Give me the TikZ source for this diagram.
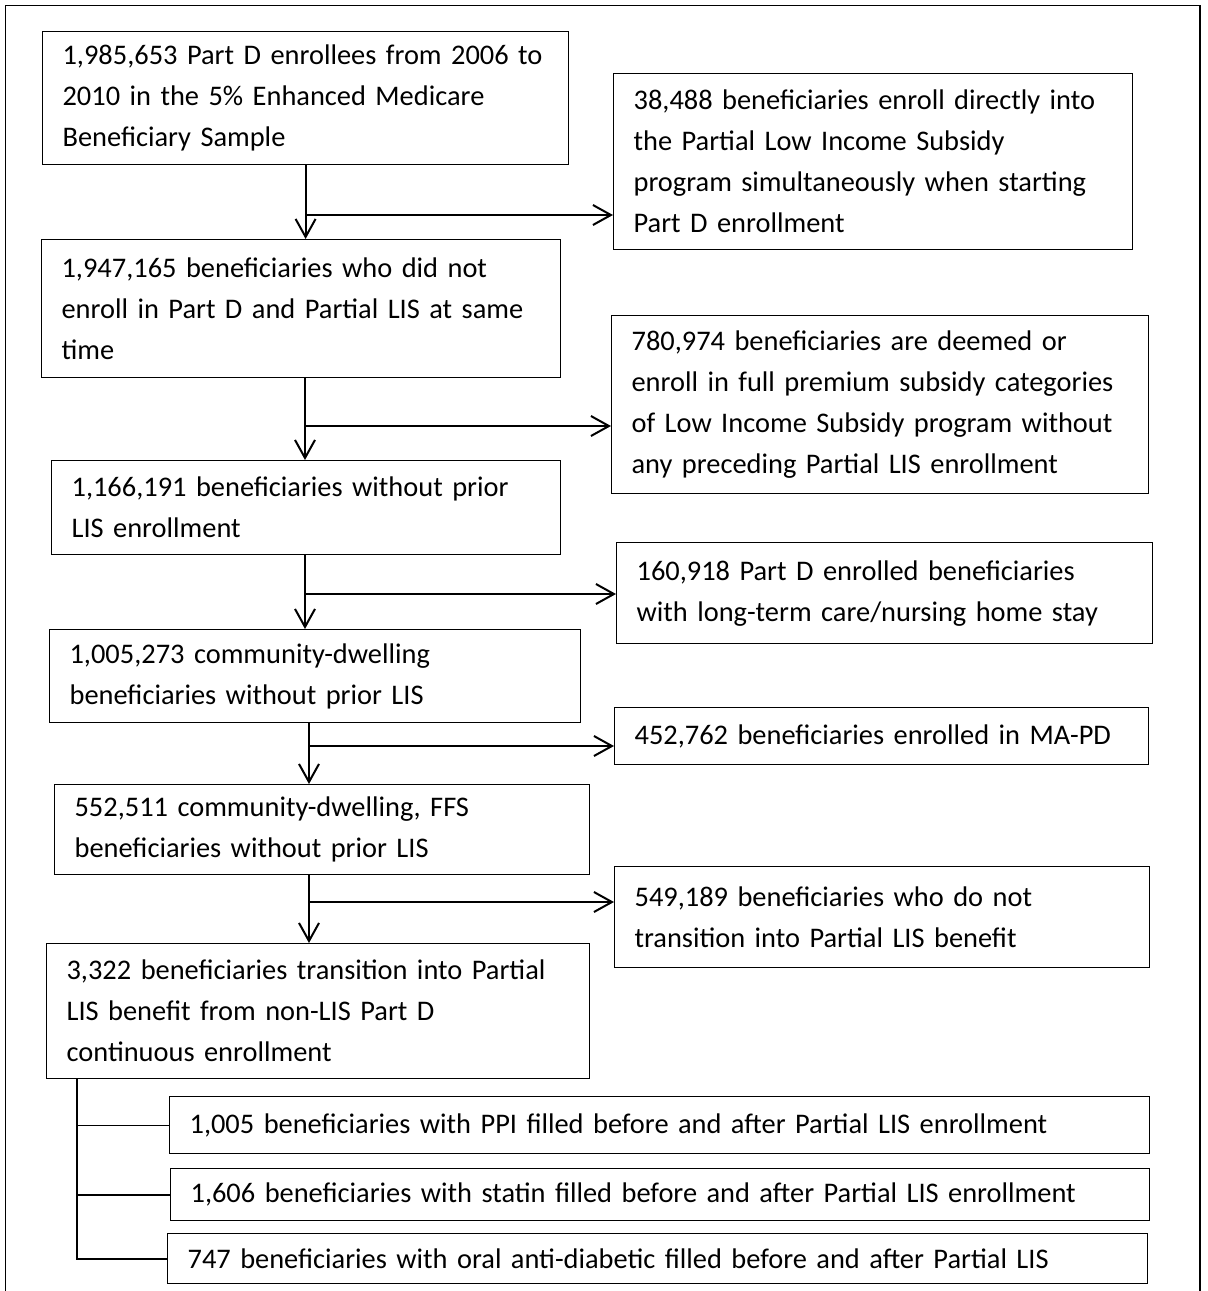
\documentclass[tikz,border=0pt]{standalone}
\usepackage{fontspec}
\setmainfont{Carlito}
\usetikzlibrary{arrows.meta}

\begin{document}
\begin{tikzpicture}[
    x=0.5pt, y=-0.5pt,
    box/.style 2 args={draw, line width=0.6pt, anchor=north west, align=left, inner xsep=10pt, inner ysep=0pt, text width=#1, minimum height=#2, font=\fontsize{14.2}{20.5}\selectfont},
    arr/.style={-{Straight Barb[length=9pt,width=10pt]}, line width=1pt},
    link/.style={line width=1pt}
]
\useasboundingbox (0,0) rectangle (1207,1291);
\draw[line width=0.75pt] (5.5,1291) -- (5.5,5.5) -- (1200,5.5) -- (1200,1291);

\node[box={243pt}{66.5pt}] (s0) at (42,31) {1,985,653 Part D enrollees from 2006 to\\2010 in the 5\% Enhanced Medicare\\Beneficiary Sample};
\node[box={239.5pt}{88pt}] (x1) at (613,73) {38,488 beneficiaries enroll directly into\\the Partial Low Income Subsidy\\program simultaneously when starting\\Part D enrollment};
\node[box={239.5pt}{69pt}] (s1) at (41,239) {1,947,165 beneficiaries who did not\\enroll in Part D and Partial LIS at same\\time};
\node[box={248.5pt}{89pt}] (x2) at (611,315) {780,974 beneficiaries are deemed or\\enroll in full premium subsidy categories\\of Low Income Subsidy program without\\any preceding Partial LIS enrollment};
\node[box={234.5pt}{47pt}] (s2) at (51,460) {1,166,191 beneficiaries without prior\\LIS enrollment};
\node[box={248pt}{50.5pt}] (x3) at (616,542) {160,918 Part D enrolled beneficiaries\\with long-term care/nursing home stay};
\node[box={245.5pt}{46.5pt}] (s3) at (49,629) {1,005,273 community-dwelling\\beneficiaries without prior LIS};
\node[box={247pt}{28.5pt}] (x4) at (614,707) {452,762 beneficiaries enrolled in MA-PD};
\node[box={247.5pt}{45pt}] (s4) at (54,784) {552,511 community-dwelling, FFS\\beneficiaries without prior LIS};
\node[box={247.5pt}{50.5pt}] (x5) at (614,866) {549,189 beneficiaries who do not\\transition into Partial LIS benefit};
\node[box={251.5pt}{67.5pt}] (s5) at (46,943) {3,322 beneficiaries transition into Partial\\LIS benefit from non-LIS Part D\\continuous enrollment};
\node[box={470pt}{28.5pt}] (d1) at (169,1096) {1,005 beneficiaries with PPI filled before and after Partial LIS enrollment};
\node[box={469.5pt}{26pt}] (d2) at (170,1168) {1,606 beneficiaries with statin filled before and after Partial LIS enrollment};
\node[box={470pt}{25pt}] (d3) at (167,1233) {747 beneficiaries with oral anti-diabetic filled before and after Partial LIS};

\coordinate (c1) at (305,215);
\coordinate (c2) at (305,426);
\coordinate (c3) at (305,594);
\coordinate (c4) at (309,746);
\coordinate (c5) at (309,902);
\coordinate (t) at (77,1258);

\draw[arr] (s0.south) -- (s0.south |- s1.north);
\draw[arr] (c1) -- (c1 -| x1.west);
\draw[arr] (s1.south -| c2) -- (s2.north -| c2);
\draw[arr] (c2) -- (c2 -| x2.west);
\draw[arr] (s2.south -| c3) -- (s3.north -| c3);
\draw[arr] (c3) -- (c3 -| x3.west);
\draw[arr] (s3.south -| c4) -- (s4.north -| c4);
\draw[arr] (c4) -- (c4 -| x4.west);
\draw[arr] (s4.south -| c5) -- (s5.north -| c5);
\draw[arr] (c5) -- (c5 -| x5.west);
\draw[link] (s5.south -| t) -- (t |- d3.west) -- (d3.west);
\draw[link] (t |- d2.west) -- (d2.west);
\draw[line width=0.6pt] (t |- d1.west) -- (d1.west);
\end{tikzpicture}
\end{document}
